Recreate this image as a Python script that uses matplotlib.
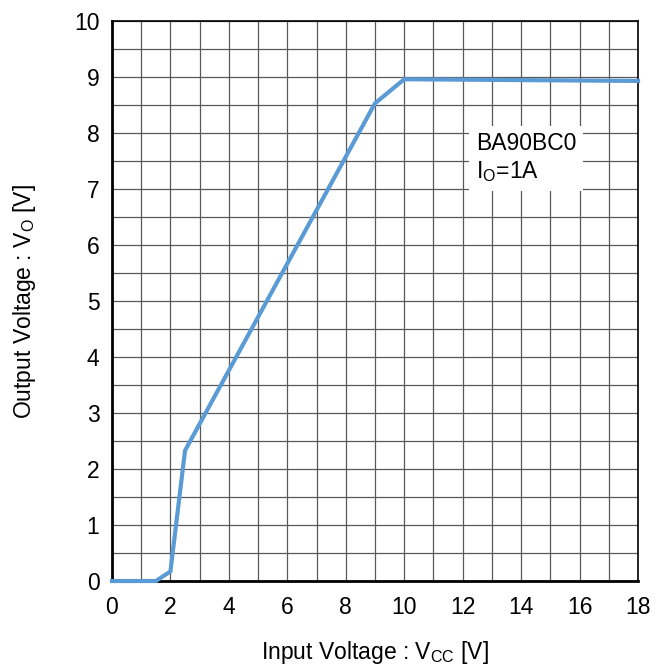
import matplotlib
matplotlib.use("Agg")
import matplotlib.pyplot as plt
from matplotlib.ticker import MultipleLocator

# ── data ──
vcc = [0.0, 1.5, 2.0, 2.5, 9.0, 10.0, 18.0]
vo = [0.0, 0.0, 0.17, 2.33, 8.53, 8.96, 8.93]

x_ticks = list(range(0, 19, 2))
y_ticks = list(range(0, 11, 1))

plt.rcParams["font.family"] = ["Liberation Sans", "DejaVu Sans"]
FS = 16.5

fig = plt.figure(figsize=(6.61, 6.67), dpi=100)
ax = fig.add_axes([0.1694, 0.1289, 0.7958, 0.8396])

ax.plot(vcc, vo, color="#5B9BD5", lw=3, solid_joinstyle="miter", zorder=3, clip_on=False)

ax.set_xlim(0, 18)
ax.set_ylim(0, 10)
ax.set_xticks(x_ticks)
ax.set_yticks(y_ticks)
ax.xaxis.set_minor_locator(MultipleLocator(1))
ax.yaxis.set_minor_locator(MultipleLocator(0.5))
ax.grid(which="both", color="#595959", lw=0.9)
ax.tick_params(which="both", length=0, labelsize=FS, pad=9)
ax.tick_params(axis="x", pad=11)

for s in ax.spines.values():
    s.set_color("#000000")
    s.set_linewidth(1.2)
ax.spines["left"].set_linewidth(2)
ax.spines["bottom"].set_linewidth(2)

ax.set_xlabel("Input Voltage : V$_{\\mathregular{CC}}$ [V]", fontsize=FS, labelpad=14)
ax.set_ylabel("Output Voltage : V$_{\\mathregular{O}}$ [V]", fontsize=FS, labelpad=26)

ax.text(12.45, 7.55, "BA90BC0\nI$_{\\mathregular{O}}$=1A", fontsize=FS, va="center", ha="left",
        linespacing=1.2, zorder=4,
        bbox=dict(facecolor="white", edgecolor="none", pad=5))

fig.savefig("out.png", dpi=100)
